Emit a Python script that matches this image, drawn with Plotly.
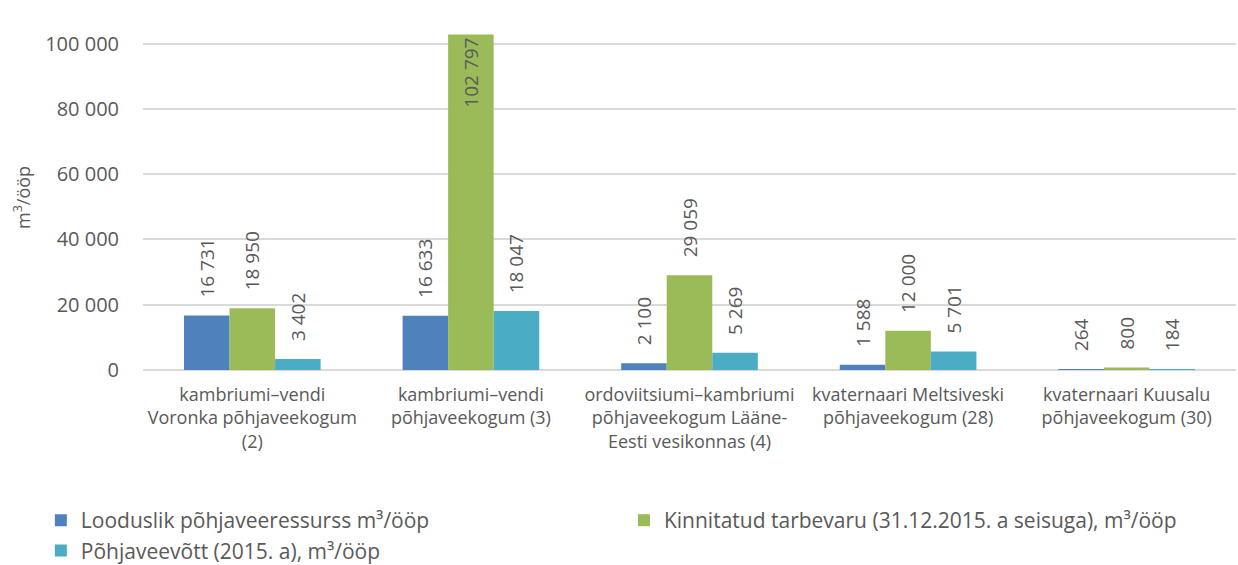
import plotly.graph_objects as go

categories = [
    "kambriumi–vendi<br>Voronka põhjaveekogum<br>(2)",
    "kambriumi–vendi<br>põhjaveekogum (3)",
    "ordoviitsiumi–kambriumi<br>põhjaveekogum Lääne-<br>Eesti vesikonnas (4)",
    "kvaternaari Meltsiveski<br>põhjaveekogum (28)",
    "kvaternaari Kuusalu<br>põhjaveekogum (30)",
]
series_names = [
    "Looduslik põhjaveeressurss m³/ööp",
    "Kinnitatud tarbevaru (31.12.2015. a seisuga), m³/ööp",
    "Põhjaveevõtt (2015. a), m³/ööp",
]
loodus = [16731, 16633, 2100, 1588, 264]
kinnitatud = [18950, 102797, 29059, 12000, 800]
veevott = [3402, 18047, 5269, 5701, 184]
colors = ["#4F81BD", "#9BBB59", "#4BACC6"]
legend_ids = ["legend", "legend2", "legend"]
yticks = [0, 20000, 40000, 60000, 80000, 100000]
ytick_labels = ["0", "20 000", "40 000", "60 000", "80 000", "100 000"]
y_title = "m<sup>3</sup>/ööp"

def fmt(v):
    return f"{v:,}".replace(",", " ")

FONT = "Open Sans, sans-serif"
GRAY = "#595959"
PAD = "\u00a0\u00a0\u00a0"

fig = go.Figure()
ymax = max(kinnitatud)
for name, vals, col, lg in zip(series_names, [loodus, kinnitatud, veevott], colors, legend_ids):
    positions = ["inside" if v == ymax else "outside" for v in vals]
    texts = [fmt(v) if v == ymax else PAD + fmt(v) for v in vals]
    fig.add_trace(go.Bar(
        x=categories, y=vals, name=name, legend=lg,
        marker=dict(color=col, line=dict(width=0)),
        text=texts,
        textposition=positions,
        insidetextanchor="end",
        textangle=-90,
        constraintext="none",
        textfont=dict(family=FONT, size=19, color=GRAY),
        cliponaxis=False,
    ))

legend_common = dict(
    orientation="v", xref="container", yref="container",
    xanchor="left", yanchor="top",
    font=dict(family=FONT, size=21, color=GRAY),
    itemwidth=30, tracegroupgap=0, traceorder="normal",
    bgcolor="rgba(0,0,0,0)",
)

fig.update_layout(
    width=1238, height=565,
    barmode="group", bargap=0.375, bargroupgap=0,
    plot_bgcolor="white", paper_bgcolor="white",
    margin=dict(l=143, r=2, t=11, b=195, autoexpand=False),
    font=dict(family=FONT, color=GRAY),
    legend=dict(x=0.033, y=0.115, **legend_common),
    legend2=dict(x=0.504, y=0.115, **legend_common),
    annotations=[dict(
        text=y_title, textangle=-90, showarrow=False,
        xref="paper", yref="paper", x=-0.1107, y=0.479,
        xanchor="center", yanchor="middle",
        font=dict(family=FONT, size=18, color=GRAY),
    )],
)
fig.update_yaxes(
    range=[0, 110000], tickvals=yticks, ticktext=ytick_labels,
    showgrid=True, gridcolor="#D9D9D9", gridwidth=1.5,
    zeroline=True, zerolinecolor="#D9D9D9", zerolinewidth=1.5,
    tickfont=dict(family=FONT, size=20, color=GRAY),
    ticklabelstandoff=23, automargin=False,
)
fig.update_xaxes(
    tickfont=dict(family=FONT, size=18, color=GRAY),
    showline=False, ticks="", ticklabelstandoff=12, automargin=False,
)

fig.write_html("out.html", post_script="document.body.style.margin='0';",
               config={"displayModeBar": False})
